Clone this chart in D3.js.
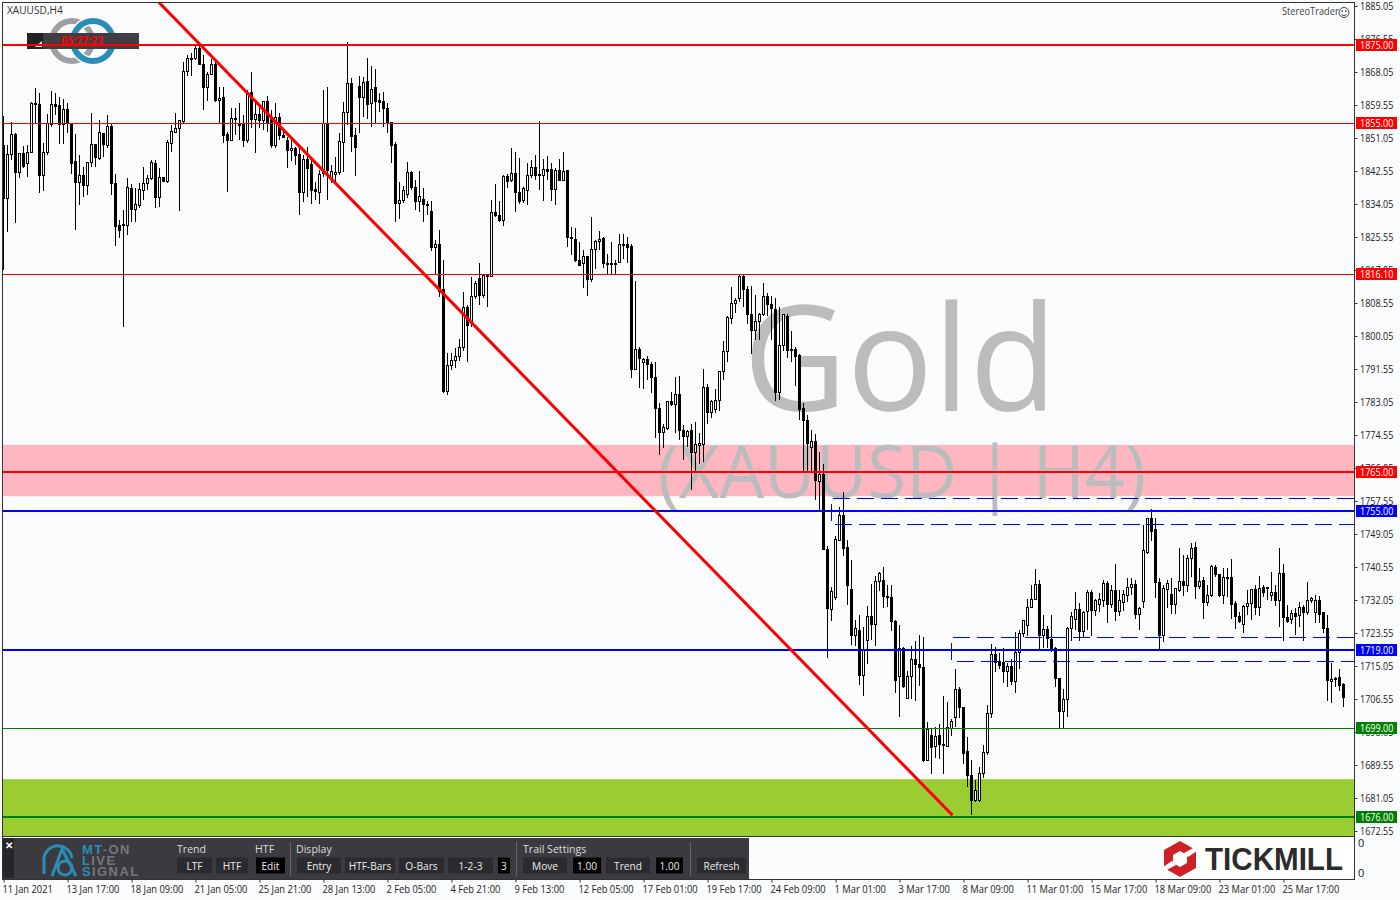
<!DOCTYPE html>
<html><head><meta charset="utf-8">
<script src="https://cdn.jsdelivr.net/npm/d3@7/dist/d3.min.js"></script>
<style>html,body{margin:0;padding:0;background:#f9fbfd;overflow:hidden}svg{display:block}</style>
</head><body><svg id="c" width="1400" height="900"></svg>
<script>
const highs=[1856.7,1849.2,1855.3,1852.3,1847.3,1849.1,1849.2,1860.4,1863.8,1862.6,
1849.7,1857.2,1863.2,1862.6,1861.7,1861.1,1860.0,1854.8,1852.0,1846.8,
1843.7,1844.8,1857.4,1849.4,1855.7,1852.3,1857.0,1854.8,1841.7,1829.9,
1832.5,1840.7,1839.2,1838.1,1839.4,1843.7,1841.5,1845.4,1845.4,1843.2,
1841.1,1850.5,1854.4,1857.4,1855.5,1870.7,1872.4,1872.9,1875.0,1875.0,
1872.4,1868.1,1871.3,1870.7,1864.1,1864.1,1852.7,1858.7,1858.7,1860.0,
1857.0,1863.4,1868.0,1860.0,1859.1,1860.5,1861.9,1858.3,1860.0,1857.4,
1852.7,1851.4,1850.5,1848.8,1848.8,1846.7,1848.8,1846.2,1839.8,1842.8,
1863.4,1864.1,1844.1,1846.2,1852.3,1860.2,1875.7,1866.6,1853.6,1867.1,
1866.8,1871.7,1869.6,1868.7,1862.6,1862.9,1860.1,1855.3,1849.9,1839.6,
1838.7,1844.9,1842.6,1840.2,1842.6,1838.1,1834.7,1834.7,1824.8,1827.4,
1819.6,1795.8,1795.8,1796.9,1799.2,1811.3,1808.0,1815.3,1814.3,1818.8,
1816.0,1816.0,1835.1,1839.2,1834.7,1841.5,1841.8,1848.4,1847.4,1845.8,
1838.3,1844.5,1845.4,1846.7,1855.4,1845.6,1846.4,1844.5,1843.2,1845.6,
1847.4,1842.8,1828.0,1827.8,1824.3,1822.2,1820.6,1830.6,1824.8,1827.2,
1825.5,1821.3,1824.2,1819.6,1826.2,1826.2,1825.6,1823.7,1814.2,1797.1,
1794.3,1795.0,1793.4,1793.4,1782.9,1777.5,1783.1,1785.7,1789.6,1789.7,
1777.1,1775.8,1777.5,1777.8,1775.1,1791.5,1787.6,1783.6,1786.4,1791.0,
1798.8,1805.1,1812.6,1809.8,1815.7,1815.7,1812.9,1812.9,1810.7,1806.0,
1813.8,1811.2,1810.3,1809.8,1807.4,1805.8,1805.8,1801.3,1797.1,1795.3,
1782.9,1779.8,1775.8,1774.7,1770.2,1767.2,1745.9,1735.3,1748.6,1756.1,
1759.9,1747.5,1742.3,1726.9,1728.3,1725.0,1730.6,1736.2,1738.3,1739.2,
1740.5,1735.8,1735.8,1726.9,1725.5,1719.9,1713.8,1720.3,1721.4,1723.1,
1722.4,1700.6,1698.8,1699.3,1700.2,1707.4,1705.8,1701.4,1714.2,1709.6,
1704.4,1696.7,1690.8,1685.7,1689.0,1694.7,1705.0,1720.7,1720.0,1718.5,
1719.6,1715.7,1716.9,1723.9,1724.3,1726.7,1732.3,1735.9,1740.0,1737.2,
1728.2,1725.3,1728.2,1720.0,1711.9,1709.0,1725.2,1729.0,1734.2,1731.2,
1729.3,1734.6,1734.5,1732.2,1733.8,1737.2,1737.0,1735.9,1741.3,1734.5,
1734.6,1737.6,1737.6,1737.2,1730.3,1751.4,1753.3,1755.5,1753.1,1737.6,
1735.9,1737.2,1737.6,1735.0,1745.4,1743.6,1743.6,1746.8,1746.9,1740.2,
1737.9,1735.9,1741.1,1741.1,1738.5,1740.2,1740.2,1742.6,1731.8,1729.0,
1730.8,1734.6,1734.9,1735.9,1738.2,1735.9,1735.5,1739.2,1735.9,1745.4,
1741.3,1730.8,1729.5,1729.9,1731.6,1730.8,1736.6,1732.7,1733.3,1733.1,
1729.0,1728.2,1715.9,1712.3,1714.4,1710.6];
const bodyTops=[1849.2,1846.7,1852.0,1852.0,1847.1,1847.1,1847.3,1860.0,1860.0,1859.7,
1847.3,1854.7,1859.7,1859.7,1859.3,1858.4,1858.4,1854.7,1845.0,1841.3,
1841.4,1844.8,1849.4,1849.4,1852.5,1852.3,1854.0,1853.9,1839.4,1828.4,
1828.8,1838.3,1838.1,1833.8,1837.7,1839.4,1840.7,1844.8,1844.5,1840.9,
1840.9,1849.9,1852.7,1853.5,1855.5,1868.3,1871.4,1871.6,1874.0,1874.1,
1870.0,1867.5,1869.9,1870.0,1861.3,1861.5,1852.0,1856.1,1856.1,1854.6,
1854.8,1862.6,1862.8,1857.0,1857.0,1860.5,1860.5,1855.7,1856.4,1856.4,
1851.8,1850.3,1848.4,1848.4,1846.7,1845.6,1845.6,1844.1,1837.7,1841.7,
1854.7,1854.7,1842.4,1842.1,1850.1,1857.7,1865.1,1865.1,1851.6,1864.3,
1865.4,1865.6,1863.6,1864.0,1860.6,1860.4,1858.7,1855.1,1849.5,1834.9,
1837.5,1842.2,1842.2,1838.3,1835.9,1835.3,1834.0,1832.2,1823.6,1823.6,
1811.9,1792.4,1793.7,1794.7,1797.1,1807.4,1807.4,1810.3,1813.7,1814.9,
1815.6,1815.6,1831.9,1831.9,1831.1,1841.2,1841.2,1842.0,1842.0,1837.1,
1838.1,1841.5,1843.4,1843.5,1841.7,1843.0,1843.0,1843.0,1842.6,1842.6,
1842.5,1842.6,1825.5,1825.0,1819.6,1820.5,1820.6,1822.4,1824.5,1825.0,
1825.2,1818.8,1818.7,1818.8,1823.6,1823.6,1823.5,1823.0,1796.6,1796.7,
1794.0,1794.1,1792.7,1789.4,1781.4,1776.5,1783.1,1783.1,1785.0,1785.0,
1775.7,1775.4,1775.8,1772.0,1772.3,1786.8,1786.8,1783.3,1783.4,1791.0,
1796.0,1804.9,1808.4,1809.1,1815.4,1815.4,1812.1,1805.6,1803.9,1805.6,
1810.3,1810.3,1808.1,1807.0,1797.6,1805.6,1805.1,1796.7,1796.7,1795.0,
1781.4,1778.4,1773.0,1773.0,1764.4,1764.4,1745.0,1734.2,1747.7,1753.9,
1753.9,1745.6,1734.8,1724.7,1724.3,1719.4,1727.8,1727.8,1736.9,1738.9,
1737.2,1733.0,1732.7,1726.6,1719.6,1719.6,1712.4,1716.6,1716.6,1715.5,
1714.7,1698.8,1697.1,1696.9,1697.1,1694.8,1699.3,1700.8,1709.1,1709.1,
1704.4,1692.9,1686.8,1683.1,1687.3,1692.8,1702.8,1717.9,1717.9,1716.2,
1716.0,1715.0,1715.0,1718.6,1723.5,1726.7,1730.2,1732.3,1736.1,1736.1,
1724.5,1724.5,1722.0,1719.6,1711.9,1706.3,1724.6,1727.9,1729.6,1729.5,
1728.9,1734.0,1734.0,1732.0,1732.3,1736.3,1736.3,1734.6,1734.6,1731.8,
1733.5,1735.3,1736.1,1736.1,1729.9,1744.9,1753.1,1753.1,1750.1,1736.6,
1734.9,1736.3,1733.5,1734.9,1736.9,1736.9,1742.8,1745.4,1745.6,1736.9,
1737.2,1733.3,1740.8,1740.5,1738.5,1737.8,1737.9,1737.9,1731.2,1727.9,
1730.3,1731.2,1734.8,1734.8,1735.0,1735.2,1735.2,1734.0,1734.0,1738.9,
1738.9,1727.5,1728.6,1728.6,1730.2,1730.2,1731.8,1732.5,1731.8,1731.8,
1728.8,1724.7,1711.6,1711.9,1712.1,1710.3];
const bodyBottoms=[1835.5,1835.5,1846.7,1842.2,1842.2,1843.7,1844.5,1847.3,1859.6,1841.3,
1841.3,1847.3,1854.4,1859.1,1854.4,1854.4,1854.7,1844.5,1839.5,1839.5,
1838.8,1838.8,1844.8,1846.0,1845.8,1849.4,1849.1,1839.3,1828.2,1827.2,
1828.5,1828.5,1832.7,1832.7,1833.6,1837.5,1839.4,1840.7,1835.7,1835.7,
1839.8,1839.8,1849.7,1852.4,1853.5,1855.3,1868.1,1871.4,1871.4,1869.9,
1864.0,1864.0,1867.3,1860.6,1860.7,1851.8,1850.4,1850.4,1855.7,1854.2,
1850.5,1850.4,1855.7,1855.7,1855.5,1855.5,1855.0,1849.1,1849.0,1851.6,
1851.1,1847.8,1847.8,1846.5,1837.0,1837.0,1843.1,1837.5,1837.3,1837.0,
1841.8,1842.8,1840.7,1841.7,1842.1,1849.9,1857.7,1851.4,1848.6,1861.4,
1861.4,1859.8,1860.0,1860.4,1860.1,1858.7,1855.0,1849.2,1834.2,1834.2,
1834.9,1836.4,1838.2,1834.7,1834.7,1834.0,1833.7,1822.8,1822.8,1811.5,
1785.7,1785.7,1792.4,1793.7,1794.7,1797.1,1802.7,1803.3,1810.2,1810.6,
1810.6,1815.3,1815.3,1831.0,1829.9,1829.8,1839.8,1840.1,1837.0,1834.8,
1834.9,1837.5,1841.3,1841.3,1841.3,1841.3,1842.4,1837.7,1837.7,1840.2,
1840.2,1825.4,1825.4,1819.5,1818.3,1818.6,1814.5,1814.5,1822.4,1824.3,
1818.6,1818.4,1818.4,1818.4,1818.9,1823.3,1822.9,1791.3,1791.3,1794.3,
1793.2,1792.6,1789.3,1781.4,1775.1,1775.1,1776.3,1782.3,1782.3,1775.7,
1774.1,1774.1,1770.0,1770.0,1771.8,1772.0,1780.3,1780.3,1781.0,1783.4,
1791.0,1796.0,1804.6,1808.4,1809.8,1812.1,1805.6,1801.4,1801.4,1803.7,
1805.6,1808.1,1807.2,1785.4,1785.4,1797.6,1796.4,1796.4,1794.8,1781.2,
1778.4,1772.3,1771.4,1762.8,1762.5,1745.0,1729.9,1729.7,1732.7,1747.3,
1745.4,1735.8,1722.9,1722.9,1712.6,1712.6,1721.7,1725.7,1725.7,1736.7,
1733.0,1732.7,1726.6,1711.2,1712.4,1709.8,1706.6,1712.4,1715.5,1714.7,
1690.8,1690.8,1694.1,1694.3,1694.8,1694.5,1694.4,1699.0,1701.8,1704.4,
1692.4,1686.8,1680.3,1680.3,1680.3,1687.4,1692.8,1702.8,1716.0,1715.1,
1713.6,1713.6,1711.0,1711.0,1718.5,1723.5,1725.6,1730.2,1732.3,1722.9,
1722.9,1722.2,1719.4,1711.9,1703.3,1703.3,1706.3,1724.6,1727.1,1723.9,
1723.9,1729.0,1729.3,1729.3,1730.8,1732.0,1731.0,1731.0,1729.0,1729.0,
1731.4,1733.3,1735.3,1728.2,1728.2,1731.6,1744.3,1749.8,1736.5,1723.0,
1722.9,1734.8,1731.0,1731.0,1734.4,1735.9,1735.9,1742.8,1735.5,1735.5,
1731.5,1731.5,1733.1,1738.5,1733.3,1733.3,1737.6,1731.0,1727.8,1726.6,
1725.8,1730.3,1731.2,1730.2,1730.2,1733.9,1735.0,1733.2,1731.8,1731.8,
1727.5,1726.5,1727.1,1727.9,1728.0,1728.8,1728.8,1731.9,1728.8,1728.4,
1724.7,1711.3,1711.0,1711.6,1710.1,1706.9];
const lows=[1817.0,1826.9,1845.4,1829.1,1840.7,1843.2,1841.1,1847.1,1854.8,1836.8,
1837.5,1846.7,1854.0,1857.0,1849.4,1849.4,1852.3,1841.7,1827.3,1833.8,
1835.9,1836.4,1843.7,1843.7,1845.4,1846.2,1848.4,1836.4,1823.3,1825.2,
1802.4,1826.1,1829.5,1829.5,1832.9,1835.1,1837.7,1840.2,1833.1,1833.2,
1839.8,1839.5,1847.4,1852.3,1832.3,1854.8,1866.9,1866.9,1871.1,1869.9,
1858.3,1860.6,1867.3,1860.4,1854.8,1849.7,1837.2,1850.3,1851.8,1850.5,
1848.8,1849.7,1853.5,1847.1,1853.5,1853.1,1852.7,1848.4,1848.4,1850.5,
1851.0,1843.2,1845.0,1844.1,1831.2,1834.6,1835.9,1834.0,1835.1,1834.0,
1841.1,1835.1,1839.4,1838.9,1841.5,1842.4,1854.4,1847.5,1841.3,1852.3,
1856.5,1855.9,1854.0,1854.6,1857.8,1854.0,1852.3,1844.7,1829.5,1830.2,
1834.2,1835.5,1837.7,1832.5,1832.1,1829.5,1831.2,1822.0,1815.9,1810.2,
1785.3,1784.8,1791.3,1791.9,1793.7,1796.3,1793.4,1802.4,1809.5,1808.0,
1809.9,1807.6,1815.3,1830.8,1829.5,1828.4,1838.1,1839.8,1832.1,1834.1,
1834.2,1833.8,1840.7,1840.2,1837.7,1834.9,1840.2,1834.9,1833.8,1840.2,
1840.2,1823.1,1820.9,1819.2,1818.3,1812.3,1810.4,1814.0,1817.3,1822.2,
1817.5,1815.9,1816.0,1816.0,1818.8,1819.8,1818.8,1789.3,1791.3,1786.6,
1786.4,1788.7,1785.3,1773.9,1769.4,1771.1,1775.8,1782.0,1775.0,1773.3,
1768.1,1771.5,1760.4,1765.3,1767.2,1767.6,1777.3,1778.9,1780.3,1780.7,
1788.7,1793.4,1803.2,1806.0,1808.8,1807.4,1803.2,1795.5,1799.0,1799.0,
1805.1,1805.1,1799.0,1783.3,1783.6,1796.2,1794.5,1793.4,1787.3,1778.4,
1765.3,1765.3,1765.3,1757.8,1755.0,1745.0,1717.0,1726.7,1732.0,1747.3,
1743.5,1730.8,1720.5,1720.3,1710.2,1707.2,1715.5,1721.7,1720.3,1734.4,
1729.9,1730.2,1724.1,1708.2,1701.8,1709.3,1706.6,1706.6,1706.1,1710.0,
1690.4,1690.5,1687.3,1691.3,1691.1,1687.3,1694.1,1696.9,1699.3,1701.6,
1689.9,1683.8,1676.8,1680.0,1680.0,1686.3,1692.1,1701.7,1713.6,1714.3,
1710.8,1709.7,1710.2,1708.2,1714.3,1722.6,1722.8,1729.9,1732.0,1719.4,
1719.6,1719.6,1718.7,1709.7,1699.2,1699.2,1702.0,1721.6,1724.3,1721.6,
1722.2,1724.3,1722.9,1727.9,1729.0,1730.3,1726.2,1729.9,1726.7,1727.9,
1729.3,1731.6,1733.3,1727.1,1724.2,1729.9,1743.9,1747.3,1732.6,1719.3,
1721.3,1729.9,1728.4,1728.4,1734.2,1733.1,1734.2,1737.9,1732.2,1735.0,
1727.2,1730.5,1732.9,1738.1,1732.9,1730.9,1732.9,1727.2,1724.5,1726.0,
1723.6,1728.2,1726.9,1728.2,1727.8,1732.9,1732.0,1731.9,1730.5,1725.0,
1721.6,1726.0,1725.9,1723.0,1725.2,1721.6,1728.2,1731.4,1726.2,1726.2,
1723.5,1706.0,1705.6,1709.7,1708.7,1704.6];
const directions=[
"d","u","u","d","u","d","u","u","d","d","u","u","u","d","d","u","d","d","d","u",
"d","u","u","d","u","d","u","d","d","d","d","u","d","u","u","u","u","u","d","u",
"d","u","u","u","u","u","u","u","u","d","d","u","u","d","u","d","d","u","d","d",
"d","u","d","u","d","u","d","d","u","d","d","d","u","d","d","u","d","d","d","u",
"u","d","u","u","u","u","u","d","d","d","u","d","u","d","d","d","d","d","d","u",
"u","u","d","d","u","d","d","d","u","d","d","u","u","u","u","u","d","u","u","d",
"u","d","u","d","d","u","d","u","d","d","u","u","u","d","d","u","d","d","u","d",
"u","d","d","d","d","u","d","u","u","u","d","d","d","d","u","d","d","d","u","d",
"u","d","d","d","d","u","u","d","u","d","d","u","d","u","u","u","d","u","u","u",
"u","u","u","u","u","d","d","d","u","u","u","d","d","d","u","u","d","d","d","d",
"d","d","u","d","u","d","d","u","u","u","d","d","d","u","d","u","u","d","u","u",
"d","d","d","d","u","d","u","u","d","d","d","u","d","u","d","d","u","u","u","d",
"d","d","d","u","u","u","u","u","d","d","d","u","d","u","u","u","u","u","u","d",
"u","d","d","d","d","u","u","u","u","d","u","u","d","u","u","u","d","u","d","u",
"u","u","u","d","u","u","u","d","d","d","u","u","d","u","u","d","u","u","d","u",
"d","u","u","d","d","u","d","d","d","d","u","u","u","d","u","d","d","u","d","u",
"d","d","u","d","u","d","u","u","u","d","d","d","u","d","d","d"];
const priceTicks=[1885.05,1876.55,1868.05,1859.55,1851.05,1842.55,1834.05,1825.55,1817.05,1808.55,1800.05,1791.55,1783.05,1774.55,1766.05,1757.55,1749.05,1740.55,1732.05,1723.55,1715.05,1706.55,1698.05,1689.55,1681.05,1672.55];
const timeTickBars=[0,16,32,48,64,80,96,112,128,144,160,176,192,208,224,240,256,272,288,304,320];
const timeLabels=["11 Jan 2021","13 Jan 17:00","18 Jan 09:00","21 Jan 05:00","25 Jan 21:00","28 Jan 13:00","2 Feb 05:00","4 Feb 21:00","9 Feb 13:00","12 Feb 05:00","17 Feb 01:00","19 Feb 17:00","24 Feb 09:00","1 Mar 01:00","3 Mar 17:00","8 Mar 09:00","11 Mar 01:00","15 Mar 17:00","18 Mar 09:00","23 Mar 01:00","25 Mar 17:00"];
const levelPrices=[1875,1855,1816.1,1765,1755,1719,1699,1676];
const levelColors=["#ff0000","#ff0000","#ff0000","#ff0000","#0000ff","#0000ff","#008000","#008000"];
const levelWidths=[2,1,1,2,2,2,1,2];
const zonePrices=[[1772.0,1758.8,"#ffb6c1"],[1685.9,1671.2,"#9acd32"]];
const dashedBoxes=[[207,1758.3,1751.6],[237,1722.5,1716.1]];
const trendBars=[38.75,237.25];
const trendPrices=[1886.1,1676.6];
const panelHeaders=[["Trend",177],["HTF",255],["Display",296],["Trail Settings",523]];
const panelButtons=[["LTF",177,35,0],["HTF",216,32,0],["Edit",256,29,1],["Entry",297,44,0],["HTF-Bars",345,50,0],["O-Bars",399,45,0],["1-2-3",448,45,0],["3",498,12,1],["Move",523,44,0],["1.00",573,28,1],["Trend",606,44,0],["1.00",656,27,1],["Refresh",697,49,0]];
const panelSeparators=[290,516,690];

const FONT='"Open Sans",sans-serif';
const svg=d3.select("#c").style("font-family",FONT);
const x=d3.scaleLinear().domain([0,335]).range([3.5,1343.5]);
const y=d3.scaleLinear().domain([1885.05,1672.55]).range([6,831]);
const snap=v=>Math.round(v-0.5)+0.5;
const bars=d3.range(highs.length);
const squeeze=(sel,k)=>sel.each(function(){this.setAttribute("textLength",this.getComputedTextLength()*k);this.setAttribute("lengthAdjust","spacingAndGlyphs");});
const levelY=(d,i)=>levelWidths[i]===1?Math.round(y(d))+.5:Math.round(y(d)-.3);

svg.append("defs").append("clipPath").attr("id","plot").append("rect").attr("x",2).attr("y",2).attr("width",1352).attr("height",834);
const plot=svg.append("g").attr("clip-path","url(#plot)");

// zones
plot.selectAll(".zone").data(zonePrices).join("rect").attr("x",2).attr("width",1352)
 .attr("y",d=>y(d[0])).attr("height",d=>y(d[1])-y(d[0])).attr("fill",d=>d[2]);

// watermark
const wm=plot.append("g").attr("fill","#bbbcbe").attr("font-family",'"Open Sans",sans-serif');
wm.append("text").text("Gold").attr("x",743).attr("y",411).attr("font-size",146).attr("textLength",314).attr("lengthAdjust","spacingAndGlyphs");
wm.append("text").text("(XAUUSD | H4)").attr("x",658).attr("y",498).attr("font-size",74).attr("textLength",488).attr("lengthAdjust","spacingAndGlyphs");

// top-left logo
const logo=plot.append("g").attr("fill","none").attr("stroke-width",6);
logo.append("circle").attr("cx",72).attr("cy",41).attr("r",20).attr("stroke","#9d9fa1");
logo.append("circle").attr("cx",93).attr("cy",41).attr("r",20).attr("stroke","#f9fbfd").attr("stroke-width",9);
logo.append("circle").attr("cx",93).attr("cy",41).attr("r",20).attr("stroke","#2a8db5");
logo.append("rect").attr("x",27).attr("y",33).attr("width",112).attr("height",16).attr("fill","#3f3e44").attr("stroke","none");
logo.append("rect").attr("x",27).attr("y",33).attr("width",16).attr("height",16).attr("fill","#222").attr("stroke","none");
logo.append("path").attr("d","M35 47h7v-6z").attr("fill","#eee").attr("stroke","none");
plot.append("text").text("05:27:23").attr("x",61).attr("y",44.5).attr("fill","#ff0000").attr("font-size",12).attr("font-weight","bold").attr("textLength",42).attr("lengthAdjust","spacingAndGlyphs");

// candles
const candles=plot.append("g");
candles.selectAll("line").data(bars).join("line").attr("x1",i=>x(i)).attr("x2",i=>x(i))
 .attr("y1",i=>Math.round(y(highs[i]))).attr("y2",i=>Math.round(y(lows[i]))).attr("stroke","#000").attr("stroke-width",1);
candles.selectAll("rect").data(bars).join("rect").attr("x",i=>x(i)-1).attr("width",2)
 .attr("y",i=>snap(y(bodyTops[i]))).attr("height",i=>Math.max(1,snap(y(bodyBottoms[i]))-snap(y(bodyTops[i]))))
 .attr("fill",i=>directions[i]==="u"?"#fff":"#000").attr("stroke","#000").attr("stroke-width",1);

// dashed boxes
const dash=plot.append("g").attr("fill","none").attr("stroke","#0000ff").attr("stroke-width",1).attr("stroke-dasharray","17,7");
dash.selectAll("path").data(dashedBoxes).join("path").attr("shape-rendering","crispEdges")
 .attr("d",d=>`M1354 ${snap(y(d[1]))}H${snap(x(d[0]))}V${snap(y(d[2]))}H1354`);

// levels
plot.selectAll(".lvl").data(levelPrices).join("line").attr("x1",2).attr("x2",1354)
 .attr("y1",levelY).attr("y2",levelY)
 .attr("stroke",(d,i)=>levelColors[i]).attr("stroke-width",(d,i)=>levelWidths[i]).attr("shape-rendering","crispEdges");

// trend
plot.append("line").attr("x1",x(trendBars[0])).attr("y1",y(trendPrices[0])).attr("x2",x(trendBars[1])).attr("y2",y(trendPrices[1]))
 .attr("stroke","#ff0000").attr("stroke-width",3);

// StereoTrader
plot.append("text").text("StereoTrader").attr("x",1282).attr("y",15).attr("fill","#444").attr("font-size",11).call(squeeze,.84);
const sm=plot.append("g").attr("fill","none").attr("stroke","#444");
sm.append("circle").attr("cx",1344).attr("cy",12.5).attr("r",5);
sm.append("path").attr("d","M1341.5 14.5q2.5 2.5 5 0");
sm.append("circle").attr("cx",1342.2).attr("cy",11).attr("r",.5);
sm.append("circle").attr("cx",1345.8).attr("cy",11).attr("r",.5);
plot.append("text").text("XAUUSD,H4").attr("x",7).attr("y",14).attr("fill","#333").attr("font-size",11).call(squeeze,.92);

// frame
const fr=svg.append("g").attr("stroke","#333").attr("fill","none").attr("shape-rendering","crispEdges");
fr.append("path").attr("d","M2.5 879.5V2.5H1354.5V879.5H2.5");
fr.append("path").attr("d","M2.5 836.5H1354.5");

// lower panel logo box
svg.append("rect").attr("x",1163).attr("y",837).attr("width",191).attr("height",42).attr("fill","#fff");
const tk=svg.append("g");
tk.append("path").attr("fill","#cf2027").attr("fill-rule","evenodd").attr("d","M1180 841L1196 850V868L1180 877L1164 868V850ZM1180 851L1173 855V863L1180 867L1187 863V855Z");
tk.append("path").attr("fill","#fff").attr("d","M1184 853L1197 846L1197 851L1188 857ZM1176 865L1163 872L1163 867L1172 861Z");
tk.append("text").text("TICKMILL").attr("x",1205).attr("y",870).attr("fill","#2b2b2b").attr("font-family","Liberation Sans,sans-serif").attr("font-weight","bold").attr("font-size",31).attr("textLength",138).attr("lengthAdjust","spacingAndGlyphs");

// right axis
const rAxis=svg.append("g").attr("transform","translate(1354.5,0)").call(d3.axisRight(y).tickValues(priceTicks).tickFormat(d3.format(".2f")).tickSize(3).tickPadding(2));
rAxis.select(".domain").remove();
rAxis.selectAll("line").attr("stroke","#333");
rAxis.selectAll("text").attr("font-size",11).attr("font-family",FONT).attr("fill","#222").attr("x",5.5).call(squeeze,.82);

// price labels
const tags=svg.selectAll(".tag").data(levelPrices).join("g").attr("transform",(d,i)=>`translate(1356,${Math.floor(levelY(d,i))})`);
tags.append("rect").attr("y",-6).attr("width",41).attr("height",12).attr("fill",(d,i)=>levelColors[i]);
tags.append("text").text(d3.format(".2f")).attr("x",4).attr("y",4).attr("fill","#fff").attr("font-size",11).call(squeeze,.82);

// bottom zero labels
svg.selectAll(".z").data([847,877]).join("text").text("0").attr("x",1358).attr("y",d=>d).attr("font-size",11).attr("fill","#222");

// time axis
const bAxis=svg.append("g").attr("transform","translate(0,879.5)").call(d3.axisBottom(x).tickValues(timeTickBars).tickFormat((d,i)=>timeLabels[i]).tickSize(3).tickPadding(3));
bAxis.select(".domain").remove();
bAxis.selectAll("line").attr("stroke","#333");
bAxis.selectAll("text").attr("font-size",11).attr("font-family",FONT).attr("fill","#222").attr("text-anchor","start").attr("x",-1.5).call(squeeze,.85);

// control panel
const panel=svg.append("g");
panel.append("rect").attr("x",3).attr("y",838).attr("width",746).attr("height",41).attr("fill","#3b3a40");
panel.append("rect").attr("x",3).attr("y",838).attr("width",11).attr("height",40).attr("fill","#26252a");
panel.append("text").text("✕").attr("x",5).attr("y",849).attr("fill","#fff").attr("font-size",10).attr("font-weight","bold");
const mt=panel.append("g").attr("fill","none").attr("stroke","#2a8db5").attr("stroke-width",3);
mt.append("path").attr("d","M44 874V862A14 14 0 0 1 72 858");
mt.append("path").attr("d","M52 876L62 849L76 876");
mt.append("circle").attr("cx",65).attr("cy",868).attr("r",7);
panel.selectAll(".mtt").data([[["MT","#2a8db5"],["-ON","#77767c"]],[["L","#2a8db5"],["IVE","#77767c"]],[["S","#2a8db5"],["IGNAL","#77767c"]]]).join("text")
 .attr("x",82).attr("y",(d,i)=>854+i*11).attr("font-size",13).attr("font-weight","bold").attr("letter-spacing",1.4).attr("font-family","Liberation Sans,sans-serif")
 .selectAll("tspan").data(d=>d).join("tspan").text(d=>d[0]).attr("fill",d=>d[1]);
panel.selectAll(".sep").data(panelSeparators).join("line").attr("x1",d=>d+.5).attr("x2",d=>d+.5).attr("y1",842).attr("y2",876).attr("stroke","#66656b");
panel.selectAll(".hdr").data(panelHeaders).join("text").text(d=>d[0]).attr("x",d=>d[1]).attr("y",853).attr("fill","#dcdcdc").attr("font-size",11.5).call(squeeze,.92);
const btn=panel.selectAll(".btn").data(panelButtons).join("g").attr("transform",d=>`translate(${d[1]},857.5)`);
btn.append("rect").attr("width",d=>d[2]).attr("height",16).attr("fill",d=>d[3]?"#000":"#2b2a2f");
btn.append("text").text(d=>d[0]).attr("x",d=>d[2]/2).attr("y",12.5).attr("text-anchor","middle").attr("fill","#ececec").attr("font-size",11.5).call(squeeze,.88);
</script></body></html>
